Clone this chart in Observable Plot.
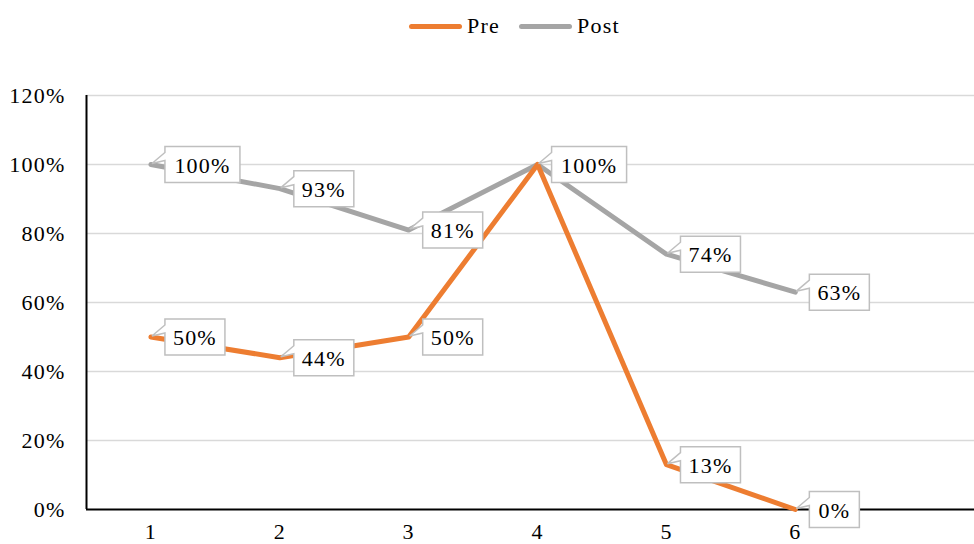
<!DOCTYPE html>
<html>
<head>
<meta charset="utf-8">
<script src="https://cdn.jsdelivr.net/npm/d3@7"></script>
<script src="https://cdn.jsdelivr.net/npm/@observablehq/plot@0.6"></script>
<style>
  body { margin: 0; background: #fff; font-family: "Liberation Serif", "Times New Roman", serif; }
  #legend { position: relative; height: 44px; width: 974px; }
  .item { position: absolute; top: 13px; display: flex; align-items: center; font-size: 22px; letter-spacing: 1.2px; color: #000; }
  .sw { width: 53px; height: 5px; border-radius: 3px; margin-right: 5px; }
  svg, svg text { font-family: "Liberation Serif", "Times New Roman", serif !important; letter-spacing: 1.2px; }
</style>
</head>
<body>
<div id="legend"></div>
<div id="chart"></div>
<script>
const categories = [1, 2, 3, 4, 5, 6];
const seriesNames = ["Pre", "Post"];
const preValues = [0.50, 0.44, 0.50, 1.00, 0.13, 0.00];
const postValues = [1.00, 0.93, 0.81, 1.00, 0.74, 0.63];
const yTicks = [0, 0.2, 0.4, 0.6, 0.8, 1.0, 1.2];
const colors = {Pre: "#ED7D31", Post: "#A5A5A5"};

const fmt = v => Math.round(v * 100) + "%";
const rows = [];
categories.forEach((c, i) => {
  rows.push({x: c, v: postValues[i], s: "Post", label: fmt(postValues[i])});
});
categories.forEach((c, i) => {
  rows.push({x: c, v: preValues[i], s: "Pre", label: fmt(preValues[i])});
});
// where both series share the same point, one callout covers the other
const labelRows = rows.filter((d, i) => !rows.slice(0, i).some(e => e.x === d.x && e.v === d.v));

const boxW = {2: 50, 3: 60, 4: 75};
function callout(w) {
  return {
    draw(ctx) {
      ctx.moveTo(14, -18);
      ctx.lineTo(14 + w, -18);
      ctx.lineTo(14 + w, 18);
      ctx.lineTo(14, 18);
      ctx.lineTo(14, -4);
      ctx.lineTo(1, -1);
      ctx.lineTo(14, -12);
      ctx.closePath();
    }
  };
}

// legend
const leg = document.getElementById("legend");
const legPos = {Pre: 409, Post: 519};
seriesNames.forEach(n => {
  const it = document.createElement("div");
  it.className = "item";
  it.style.left = legPos[n] + "px";
  it.innerHTML = `<span class="sw" style="background:${colors[n]}"></span><span>${n}</span>`;
  leg.appendChild(it);
});

const calloutMarks = [2, 3, 4].map(n =>
  Plot.dot(labelRows.filter(d => d.label.length === n), {
    x: "x", y: "v", symbol: callout(boxW[n]), r: 5,
    fill: "white", stroke: "#BFBFBF", strokeWidth: 1.5
  })
);
const textMarks = [2, 3, 4].map(n =>
  Plot.text(labelRows.filter(d => d.label.length === n), {
    x: "x", y: "v", text: "label", dx: 14 + boxW[n] / 2, dy: 1,
    textAnchor: "middle", fontSize: 22, fill: "#000"
  })
);

const chart = Plot.plot({
  width: 974,
  height: 500,
  marginLeft: 86,
  marginRight: 0,
  marginTop: 51,
  marginBottom: 35,
  style: {fontFamily: "'Liberation Serif', serif", fontSize: "22px", background: "white", color: "#000", overflow: "visible"},
  x: {domain: [0.5, 7.39], ticks: categories, tickFormat: d => String(d), tickSize: 0, tickPadding: 14, label: null},
  y: {domain: [0, 1.2], ticks: yTicks, tickFormat: fmt, tickSize: 0, tickPadding: 21, label: null},
  marks: [
    Plot.ruleY(yTicks.filter(t => t > 0), {stroke: "#D9D9D9", strokeWidth: 1.5}),
    Plot.ruleX([0.5], {y1: 0, y2: 1.2, stroke: "#000", strokeWidth: 2}),
    Plot.ruleY([0], {stroke: "#000", strokeWidth: 2}),
    Plot.line(rows.filter(d => d.s === "Post"), {x: "x", y: "v", stroke: colors.Post, strokeWidth: 5}),
    Plot.line(rows.filter(d => d.s === "Pre"), {x: "x", y: "v", stroke: colors.Pre, strokeWidth: 5}),
    ...calloutMarks,
    ...textMarks
  ]
});
document.getElementById("chart").appendChild(chart);
</script>
</body>
</html>
